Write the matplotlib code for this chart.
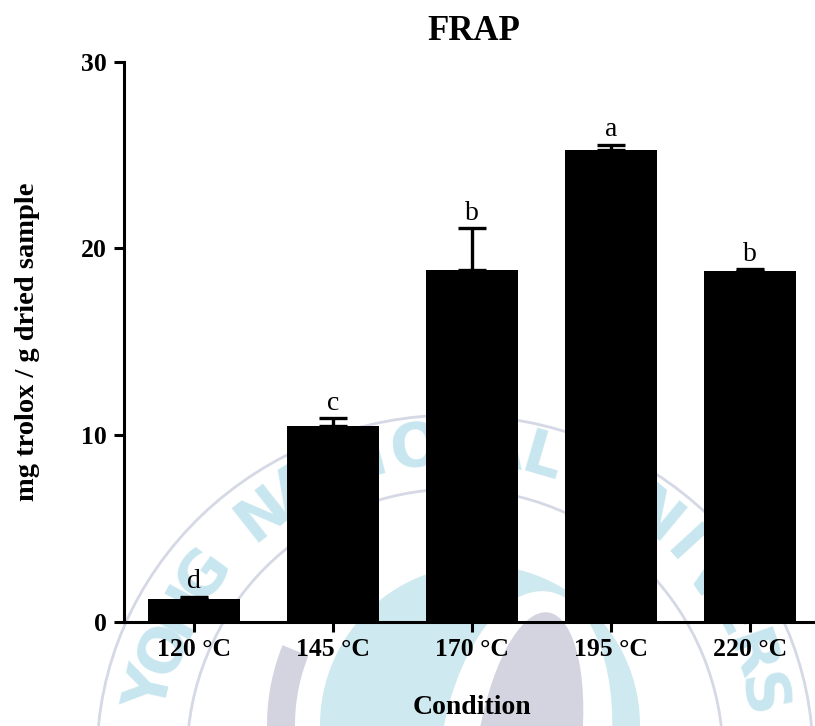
import numpy as np
import matplotlib
matplotlib.use("Agg")
import matplotlib.pyplot as plt
from matplotlib.patches import Circle, Ellipse, Wedge

# ---- data -------------------------------------------------------------
conditions = ["120 °C", "145 °C", "170 °C", "195 °C", "220 °C"]
frap_mean = [1.21, 10.50, 18.86, 25.28, 18.77]
frap_sd = [0.15, 0.41, 2.24, 0.28, 0.12]
groups = ["d", "c", "b", "a", "b"]
y_ticks = [0, 10, 20, 30]

plt.rcParams["font.family"] = ["Liberation Serif", "DejaVu Serif"]

W, H = 815, 726
fig = plt.figure(figsize=(W / 100, H / 100), dpi=100)
fig.patch.set_facecolor("white")

# ---- faint university seal behind the chart (pixel coords, y up) -------
bg = fig.add_axes([0, 0, 1, 1], zorder=0)
bg.set_xlim(0, W)
bg.set_ylim(0, H)
bg.axis("off")

ring_c = "#d5d8e5"
blue_c = "#cfe9f1"
gray_c = "#d3d4e0"
text_c = "#c8e6ef"

cx, cy = 455, -31
bg.add_patch(Ellipse((cx, cy), 716, 684, fill=False, lw=2.0, ec=ring_c))
bg.add_patch(Circle((cx, cy), 268, fill=False, lw=2.0, ec=ring_c))

seal_text = "PUKYONG NATIONAL UNIVERSITY"
for i, ch in enumerate(seal_text):
    if ch == " ":
        continue
    th = np.deg2rad(190.7 - 7.8 * i)
    tx, ty = cx + 310 * np.cos(th), cy + 310 * np.sin(th)
    if ty < 15:
        continue  # letters that fall below the page
    bg.text(tx, ty, ch,
            rotation=np.rad2deg(th) - 90, rotation_mode="anchor",
            ha="center", va="center", fontsize=44, fontweight="bold",
            family="DejaVu Sans", color=text_c)

# emblem
bg.add_patch(Wedge((480, 1), 213, 158, 200, width=28, fc=gray_c, ec="none"))
bg.add_patch(Circle((480, 1), 160, fc=blue_c, ec="none"))
bg.add_patch(Ellipse((525, -30), 170, 332, angle=-8, fc="white", ec="none"))
bg.add_patch(Ellipse((528, -30), 104, 290, angle=-8, fc=gray_c, ec="none"))

# ---- bar chart --------------------------------------------------------
ax = fig.add_axes([124 / W, (H - 622) / H, (W - 124) / W, (622 - 61.7) / H],
                  zorder=2)
ax.patch.set_alpha(0)

x = np.arange(len(conditions))
ax.bar(x, frap_mean, width=0.66, color="black", edgecolor="black",
       linewidth=0, zorder=2)
ax.errorbar(x, frap_mean, yerr=[np.zeros(len(frap_sd)), frap_sd], fmt="none",
            ecolor="black", elinewidth=2.4, capsize=10, capthick=2.4,
            zorder=3)

for xi, m, s, g in zip(x, frap_mean, frap_sd, groups):
    ax.annotate(g, (xi, m + s), xytext=(0, 6), textcoords="offset points",
                ha="center", va="baseline", fontsize=20)

ax.set_xlim(-0.504, 4.47)
ax.set_ylim(0, 30)
ax.set_yticks(y_ticks)
ax.set_xticks(x)
ax.set_xticklabels(conditions)

for side in ("top", "right"):
    ax.spines[side].set_visible(False)
for side in ("left", "bottom"):
    ax.spines[side].set_linewidth(2.2)

ax.tick_params(axis="both", direction="out", length=7.2, width=2.2,
               labelsize=18.5)
ax.tick_params(axis="y", pad=5)
ax.tick_params(axis="x", pad=4)
for lab in ax.get_xticklabels() + ax.get_yticklabels():
    lab.set_fontweight("bold")

fig.text(474 / W, (H - 40) / H, "FRAP", ha="center", va="baseline",
         fontsize=25, fontweight="bold")
fig.text(28 / W, (H - 342) / H, "mg trolox / g dried sample", rotation=90,
         ha="center", va="center", fontsize=20.5, fontweight="bold")
fig.text(472 / W, (H - 708) / H, "Condition", ha="center", va="center",
         fontsize=20, fontweight="bold")

fig.savefig("out.png", dpi=100)
